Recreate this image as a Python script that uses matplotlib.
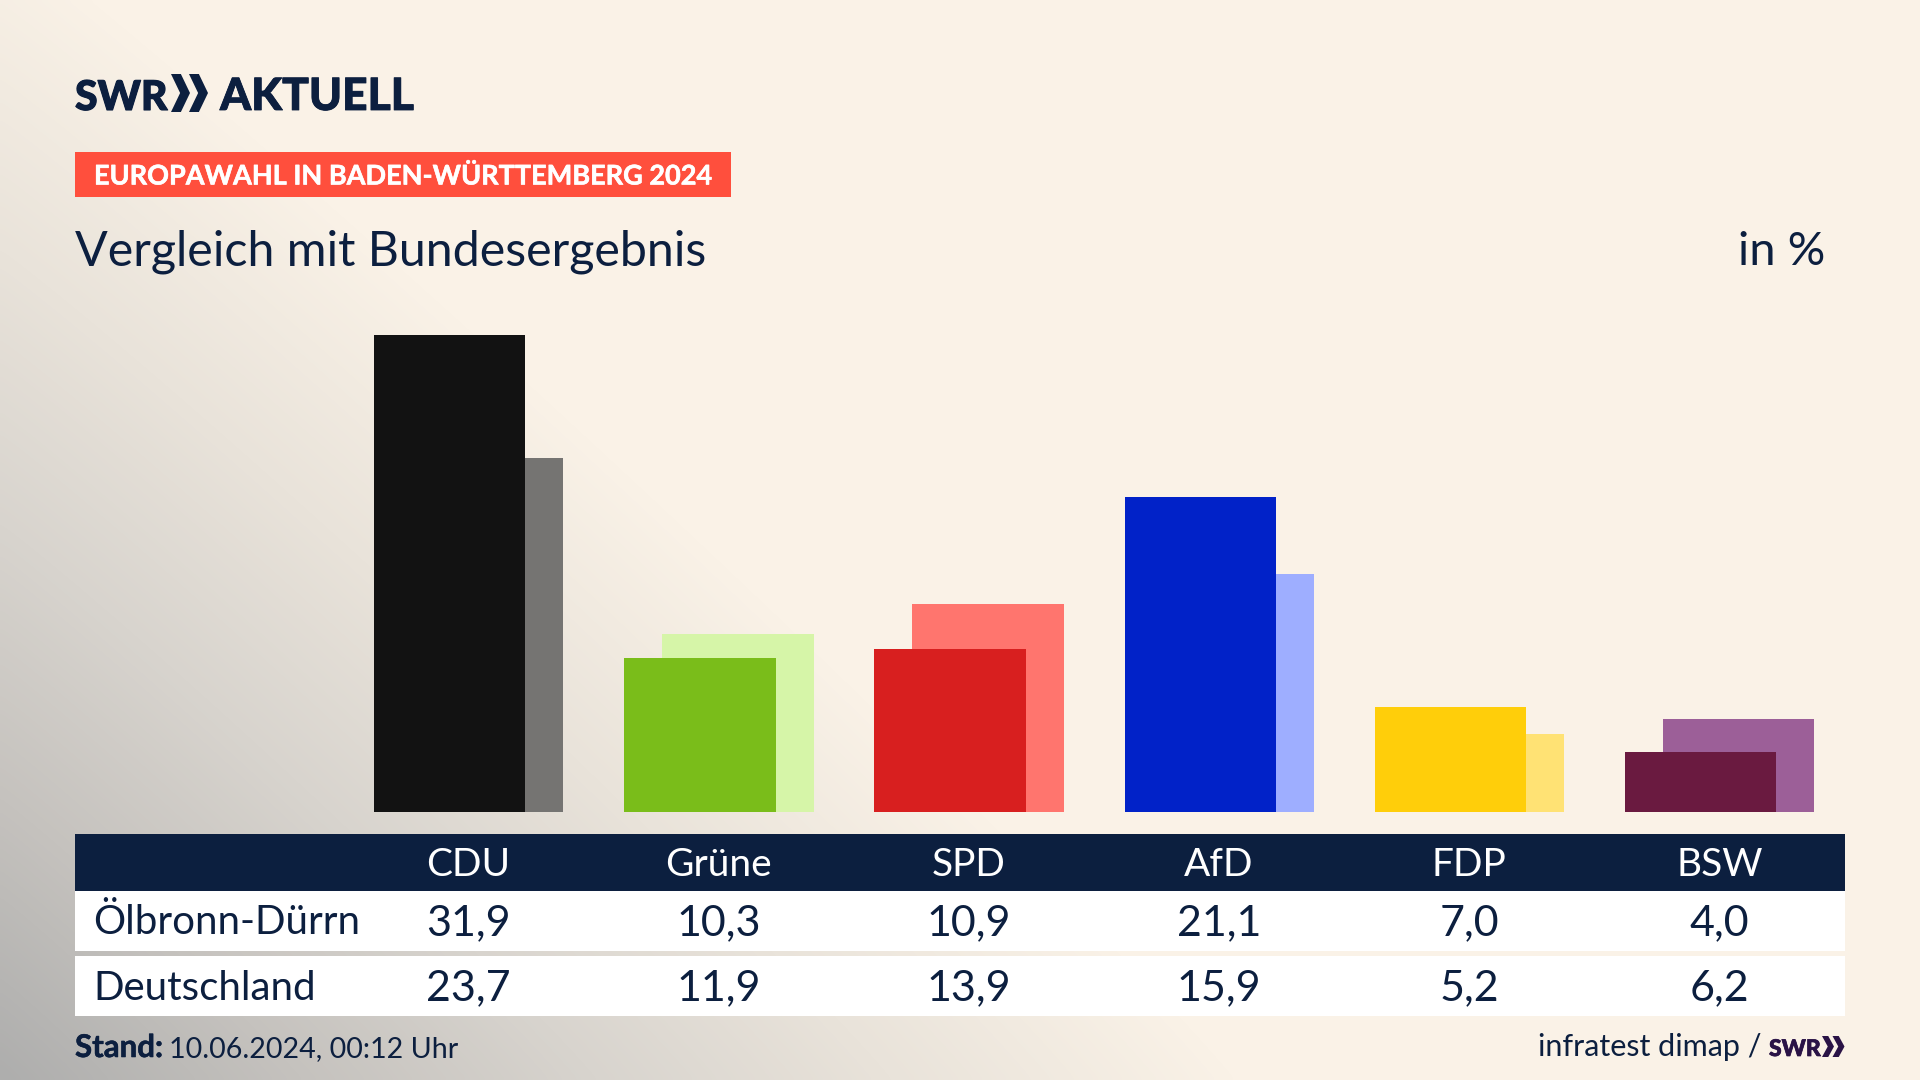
import numpy as np
import matplotlib
matplotlib.use("Agg")
import matplotlib.pyplot as plt
import matplotlib.patheffects as pe
from matplotlib.patches import Rectangle, Polygon
from matplotlib.colors import LinearSegmentedColormap

parties = ["CDU", "Grüne", "SPD", "AfD", "FDP", "BSW"]
local_name = "Ölbronn-Dürrn"
national_name = "Deutschland"
local_values = [31.9, 10.3, 10.9, 21.1, 7.0, 4.0]
national_values = [23.7, 11.9, 13.9, 15.9, 5.2, 6.2]
local_colors = ["#121212", "#7ABD1A", "#D81F1F", "#0122C8", "#FFCE0A", "#6A1A40"]
national_colors = ["#757472", "#D6F5A8", "#FF756E", "#9EAEFF", "#FFE274", "#9C5F98"]

NAVY = "#0C1F3F"
PURPLE = "#2A1346"
FONT = "Lato"
W, H = 1920, 1080

def de(v):
    return f"{v:.1f}".replace(".", ",")

fig = plt.figure(figsize=(W / 100, H / 100), dpi=100)

# background: cream with a grey glow from the lower left corner
bg = fig.add_axes([0, 0, 1, 1], zorder=0)
bg.set_axis_off()
yy, xx = np.mgrid[0:H:270j, 0:W:480j]
p = 1.05
t = ((xx / 1180.0) ** p + ((H - yy) / 1100.0) ** p) ** (1 / p)
t = np.clip(t, 0, 1.05) / 1.05
cmap = LinearSegmentedColormap.from_list(
    "glow", [(0, "#AEAEAD"), (0.24, "#C5C2BE"), (0.48, "#D8D4CE"), (0.72, "#E9E3DA"), (1, "#FAF2E7")])
bg.imshow(t, cmap=cmap, vmin=0, vmax=1, extent=[0, W, H, 0], aspect="auto", interpolation="bicubic")
bg.set_xlim(0, W)
bg.set_ylim(H, 0)

# bars
PX_STEP = 250.2
PX_UNIT = 14.94
BAR_W = 151.4 / PX_STEP
OFFSET = 37.9 / PX_STEP
LEFT0 = 374
ax_l, ax_r = 75, 1845
ax_b, ax_t = 812, 300
ax = fig.add_axes([ax_l / W, 1 - ax_b / H, (ax_r - ax_l) / W, (ax_b - ax_t) / H], zorder=1)
ax.set_axis_off()
ax.set_xlim((ax_l - LEFT0) / PX_STEP, (ax_r - LEFT0) / PX_STEP)
ax.set_ylim(0, (ax_b - ax_t) / PX_UNIT)
ax.patch.set_alpha(0)
x = np.arange(len(parties))
ax.bar(x + OFFSET, national_values, width=BAR_W, align="edge", color=national_colors, zorder=2, linewidth=0)
ax.bar(x, local_values, width=BAR_W, align="edge", color=local_colors, zorder=3, linewidth=0)
for s in ax.patches:
    s.set_clip_on(False)

# overlay in pixel coordinates
ov = fig.add_axes([0, 0, 1, 1], zorder=2)
ov.set_axis_off()
ov.patch.set_alpha(0)
ov.set_xlim(0, W)
ov.set_ylim(H, 0)

def rect(x0, y0, x1, y1, c):
    ov.add_patch(Rectangle((x0, y0), x1 - x0, y1 - y0, facecolor=c, linewidth=0))

def txt(x0, y0, s, size, c=NAVY, weight="normal", ha="left", va="baseline", stroke=0):
    t_ = ov.text(x0, y0, s, fontsize=size, color=c, fontweight=weight, ha=ha, va=va, family=FONT)
    if stroke:
        t_.set_path_effects([pe.withStroke(linewidth=stroke, foreground=c)])
    return t_

def chevrons(x0, y0, y1, w, gap, c):
    ym = (y0 + y1) / 2
    for k in range(2):
        a = x0 + k * gap
        ov.add_patch(Polygon([(a, y0), (a + w * 0.52, y0), (a + w, ym), (a + w * 0.52, y1), (a, y1), (a + w * 0.48, ym)],
                             closed=True, facecolor=c, linewidth=0))

# logo
txt(75, 110, "SWR", 29.5, weight="black", stroke=0.8)
chevrons(171, 74, 112, 19, 18, NAVY)
txt(220, 110, "AKTUELL", 32, weight="black", stroke=0.6)

# tag + titles
rect(75, 152, 731, 197, "#FF4F3D")
txt(94, 184.5, "EUROPAWAHL IN BADEN-WÜRTTEMBERG 2024", 19.5, c="white", weight="bold", stroke=0.4)
txt(75, 265, "Vergleich mit Bundesergebnis", 34.8)
txt(1825, 265, "in %", 33.8, ha="right")

# table
rect(75, 834, 1845, 891, NAVY)
rect(75, 891, 1845, 951, "white")
rect(75, 956, 1845, 1016, "white")
COL0, COL_STEP = 468, 250.3
for i, name in enumerate(parties):
    cx = COL0 + i * COL_STEP
    txt(cx, 875.5, name, 28, c="white", ha="center")
    txt(cx, 935, de(local_values[i]), 31, ha="center")
    txt(cx, 1000.5, de(national_values[i]), 31, ha="center")
txt(93, 934, local_name, 29)
txt(93, 999.5, national_name, 29)

# footer
txt(75, 1057, "Stand:", 22.5, weight="bold", stroke=0.4)
txt(169, 1057, "10.06.2024, 00:12 Uhr", 20.6)
txt(1762, 1056, "infratest dimap /", 22, ha="right")
txt(1769, 1056, "SWR", 16.5, c=PURPLE, weight="black", stroke=0.5)
chevrons(1822, 1036, 1057, 12, 10.5, PURPLE)

fig.savefig("out.png", dpi=100)
